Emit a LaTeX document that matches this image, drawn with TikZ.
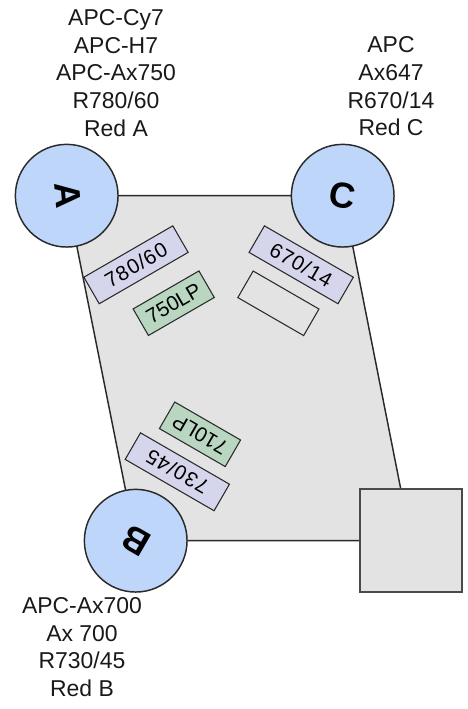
\documentclass[tikz,border=0pt]{standalone}
\usepackage{fontspec}
\setmainfont{Liberation Sans}
\usepackage{tikz}
\usepackage{xcolor}
\definecolor{plategray}{HTML}{E3E3E3}
\definecolor{ringblue}{HTML}{BFD6FB}
\definecolor{bandlilac}{HTML}{D5D6EC}
\definecolor{passgreen}{HTML}{B9D6C1}
\definecolor{edgedark}{HTML}{2A2A2A}
\tikzset{
  detector/.style={circle,draw=edgedark,line width=1.1pt,fill=ringblue,minimum size=77pt,inner sep=0pt,font=\fontsize{27}{30}\selectfont\bfseries},
  bandbox/.style={rectangle,draw=edgedark,line width=0.8pt,fill=bandlilac,minimum width=77pt,minimum height=23pt,inner sep=0pt,font=\fontsize{15.5}{18}\selectfont\addfontfeature{LetterSpace=5}},
  passbox/.style={rectangle,draw=edgedark,line width=0.8pt,fill=passgreen,minimum width=57pt,minimum height=23pt,inner sep=0pt,font=\fontsize{15.5}{18}\selectfont},
  dyelabel/.style={align=center,inner sep=0pt,text=black!90,font=\fontsize{17.2}{20.8}\selectfont}
}

\begin{document}
\begin{tikzpicture}[x=0.75pt,y=-0.75pt]
  \useasboundingbox (0,0) rectangle (467,709);
  \coordinate (plateA) at (66.7,195.7);
  \coordinate (plateC) at (342.7,195.7);
  \coordinate (plateD) at (411,540.7);
  \coordinate (plateB) at (135.7,540.7);
  \draw[edgedark,line width=1.1pt,fill=plategray] (plateA) -- (plateC) -- (plateD) -- (plateB) -- cycle;
  \node[detector] (detA) at (plateA) {\hspace{2pt}\rotatebox{-85}{A}};
  \node[detector] (detC) at (plateC) {\rotatebox{-10}{C}};
  \node[detector] (detB) at (plateB) {\rotatebox{150}{B}};
  \node[rectangle,draw=edgedark!85,line width=1.4pt,fill=plategray,minimum size=77pt,inner sep=0pt] (mirror) at (plateD) {};
  \node[bandbox,rotate=30] (band780) at (136,264.8) {780/60};
  \node[passbox,rotate=30] (pass750) at (173.7,303.2) {750LP};
  \node[bandbox,rotate=-30] (band670) at (301.2,264.8) {670/14};
  \node[passbox,rotate=-30,fill=plategray] (passC) at (278.4,303.3) {};
  \node[passbox,rotate=150] (pass710) at (200,434.3) {710LP};
  \node[bandbox,rotate=150] (band730) at (177.3,471.8) {730/45};
  \node[dyelabel] (textA) at (116,73) {APC-Cy7\\APC-H7\\APC-Ax750\\R780/60\\Red A};
  \node[dyelabel] (textC) at (391,86.5) {APC\\Ax647\\R670/14\\Red C};
  \node[dyelabel] (textB) at (82,647) {APC-Ax700\\Ax 700\\R730/45\\Red B};
\end{tikzpicture}
\end{document}
